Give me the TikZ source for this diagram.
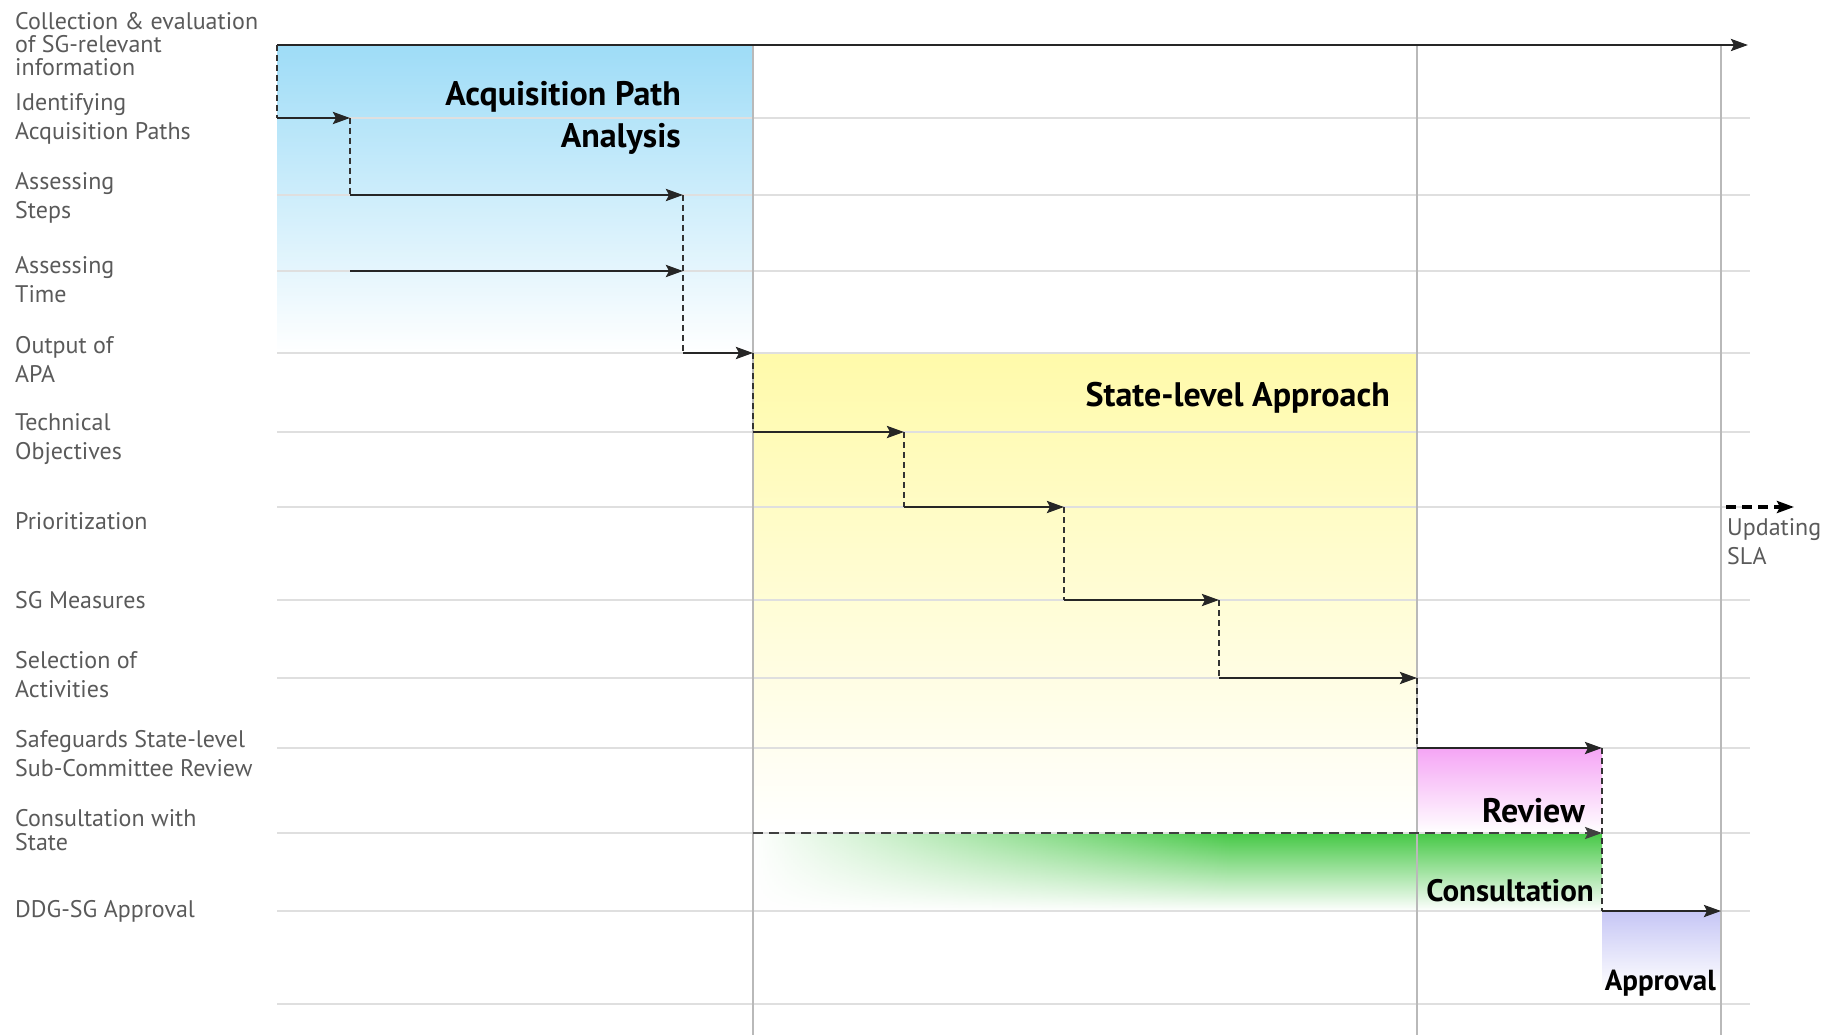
\documentclass[tikz,border=0pt]{standalone}
\usepackage{fontspec}
\setmainfont{PT Sans}
\usetikzlibrary{arrows.meta,fadings}
\definecolor{apablue}{RGB}{158,220,247}
\definecolor{slayellow}{RGB}{255,250,170}
\definecolor{revpink}{RGB}{245,165,245}
\definecolor{congreen}{RGB}{70,200,70}
\definecolor{appblue}{RGB}{198,198,245}
\definecolor{labelgray}{RGB}{90,90,90}
\tikzfading[name=fade left, left color=transparent!0, right color=transparent!100]
\tikzset{
%Define standard arrow tip
>={Stealth[length=17pt,width=12pt,inset=3pt]},
%Define style for the different line styles
grid line/.style={gray!25, line width=1.4pt},
phase line/.style={gray!55, line width=1.2pt},
step arrow/.style={->, line width=2.7pt, black!85},
link/.style={dash pattern=on 6pt off 4pt, line width=1.2pt, black!80},
consult link/.style={->, dash pattern=on 10pt off 6pt, line width=2.4pt, black!75},
update link/.style={->, dash pattern=on 10pt off 6pt, line width=3.5pt, black},
row label/.style={anchor=west, align=left, inner sep=0pt, text=labelgray,
  font=\fontsize{24}{29}\selectfont},
phase title/.style={anchor=east, align=right, inner sep=0pt,
  font=\bfseries\fontsize{34}{42}\selectfont},
small title/.style={font=\bfseries\fontsize{31}{34}\selectfont},
}

\begin{document}
\begin{tikzpicture}[x=1pt,y=-1pt]
    \useasboundingbox (0,0) rectangle (1831,1035);
    % Phase areas
    \shade[top color=apablue, bottom color=white] (277,45) rectangle (753,353);
    \shade[top color=slayellow, bottom color=white] (753,353) rectangle (1417,833);
    \shade[top color=revpink, bottom color=white] (1417,748) rectangle (1602,833);
    \shade[top color=congreen, bottom color=white] (753,833) rectangle (1602,911);
    \fill[white, path fading=fade left] (753,833) rectangle (1230,911);
    \shade[top color=appblue, bottom color=white] (1602,911) rectangle (1721,990);

    % Rows and phase borders
    \foreach \y in {118,195,271,353,432,507,600,678,748,833,911,1004}
      \draw[grid line] (277,\y) -- (1750,\y);
    \foreach \x in {753,1417,1721}
      \draw[phase line] (\x,45) -- (\x,1035);

    % Let us define the step coordinates
    \path
    coordinate (start) at (277,45)
    coordinate (slut) at (1748,45)
    coordinate (id0) at (277,118)
    coordinate (id1) at (350,118)
    coordinate (st0) at (350,195)
    coordinate (st1) at (683,195)
    coordinate (ti0) at (350,271)
    coordinate (ti1) at (683,271)
    coordinate (out0) at (683,353)
    coordinate (out1) at (753,353)
    coordinate (obj0) at (753,432)
    coordinate (obj1) at (904,432)
    coordinate (pri0) at (904,507)
    coordinate (pri1) at (1064,507)
    coordinate (mea0) at (1064,600)
    coordinate (mea1) at (1219,600)
    coordinate (act0) at (1219,678)
    coordinate (act1) at (1417,678)
    coordinate (rev0) at (1417,748)
    coordinate (rev1) at (1602,748)
    coordinate (con0) at (753,833)
    coordinate (con1) at (1602,833)
    coordinate (app0) at (1602,911)
    coordinate (app1) at (1721,911)
    coordinate (upd0) at (1726,507)
    coordinate (upd1) at (1794,507);

    % Draw the steps
    \draw[step arrow] (start) -- (slut);
    \draw[link] (start) -- (id0);
    \draw[step arrow] (id0) -- (id1);
    \draw[link] (id1) -- (st0);
    \draw[step arrow] (st0) -- (st1);
    \draw[step arrow] (ti0) -- (ti1);
    \draw[link] (st1) -- (out0);
    \draw[step arrow] (out0) -- (out1);
    \draw[link] (out1) -- (obj0);
    \draw[step arrow] (obj0) -- (obj1);
    \draw[link] (obj1) -- (pri0);
    \draw[step arrow] (pri0) -- (pri1);
    \draw[link] (pri1) -- (mea0);
    \draw[step arrow] (mea0) -- (mea1);
    \draw[link] (mea1) -- (act0);
    \draw[step arrow] (act0) -- (act1);
    \draw[link] (act1) -- (rev0);
    \draw[step arrow] (rev0) -- (rev1);
    \draw[consult link] (con0) -- (con1);
    \draw[link] (rev1) -- (app0);
    \draw[step arrow] (app0) -- (app1);
    \draw[update link] (upd0) -- (upd1);

    % Row labels
    \node[row label, font=\fontsize{24}{23}\selectfont] (collect) at (15,44)
      {Collection \& evaluation\\of SG-relevant\\information};
    \node[row label] (ident) at (15,119) {Identifying\\Acquisition Paths};
    \node[row label] (steps) at (15,198) {Assessing\\Steps};
    \node[row label] (time) at (15,280) {Assessing\\Time};
    \node[row label] (output) at (15,359) {Output of\\APA};
    \node[row label] (techobj) at (15,439) {Technical\\Objectives};
    \node[row label] (prio) at (15,521) {Prioritization};
    \node[row label] (measures) at (15,600) {SG Measures};
    \node[row label] (select) at (15,675) {Selection of\\Activities};
    \node[row label] (sscr) at (15,754) {Safeguards State-level\\Sub-Committee Review};
    \node[row label, font=\fontsize{24}{24}\selectfont] (constate) at (15,830)
      {Consultation with\\State};
    \node[row label] (ddg) at (15,911) {DDG-SG Approval};
    \node[row label, anchor=north west] (update) at (1727,518) {Updating\\SLA};

    % Phase titles
    \node[phase title] (apa) at (681,118) {Acquisition Path\\Analysis};
    \node[phase title] (sla) at (1390,398) {State-level Approach};
    \node[phase title] (review) at (1585,811) {Review};
    \node[phase title, small title] (consult) at (1594,891) {Consultation};
    \node[phase title, small title, font=\bfseries\fontsize{29}{34}\selectfont]
      (approval) at (1716,983) {Approval};
\end{tikzpicture}
\end{document}
